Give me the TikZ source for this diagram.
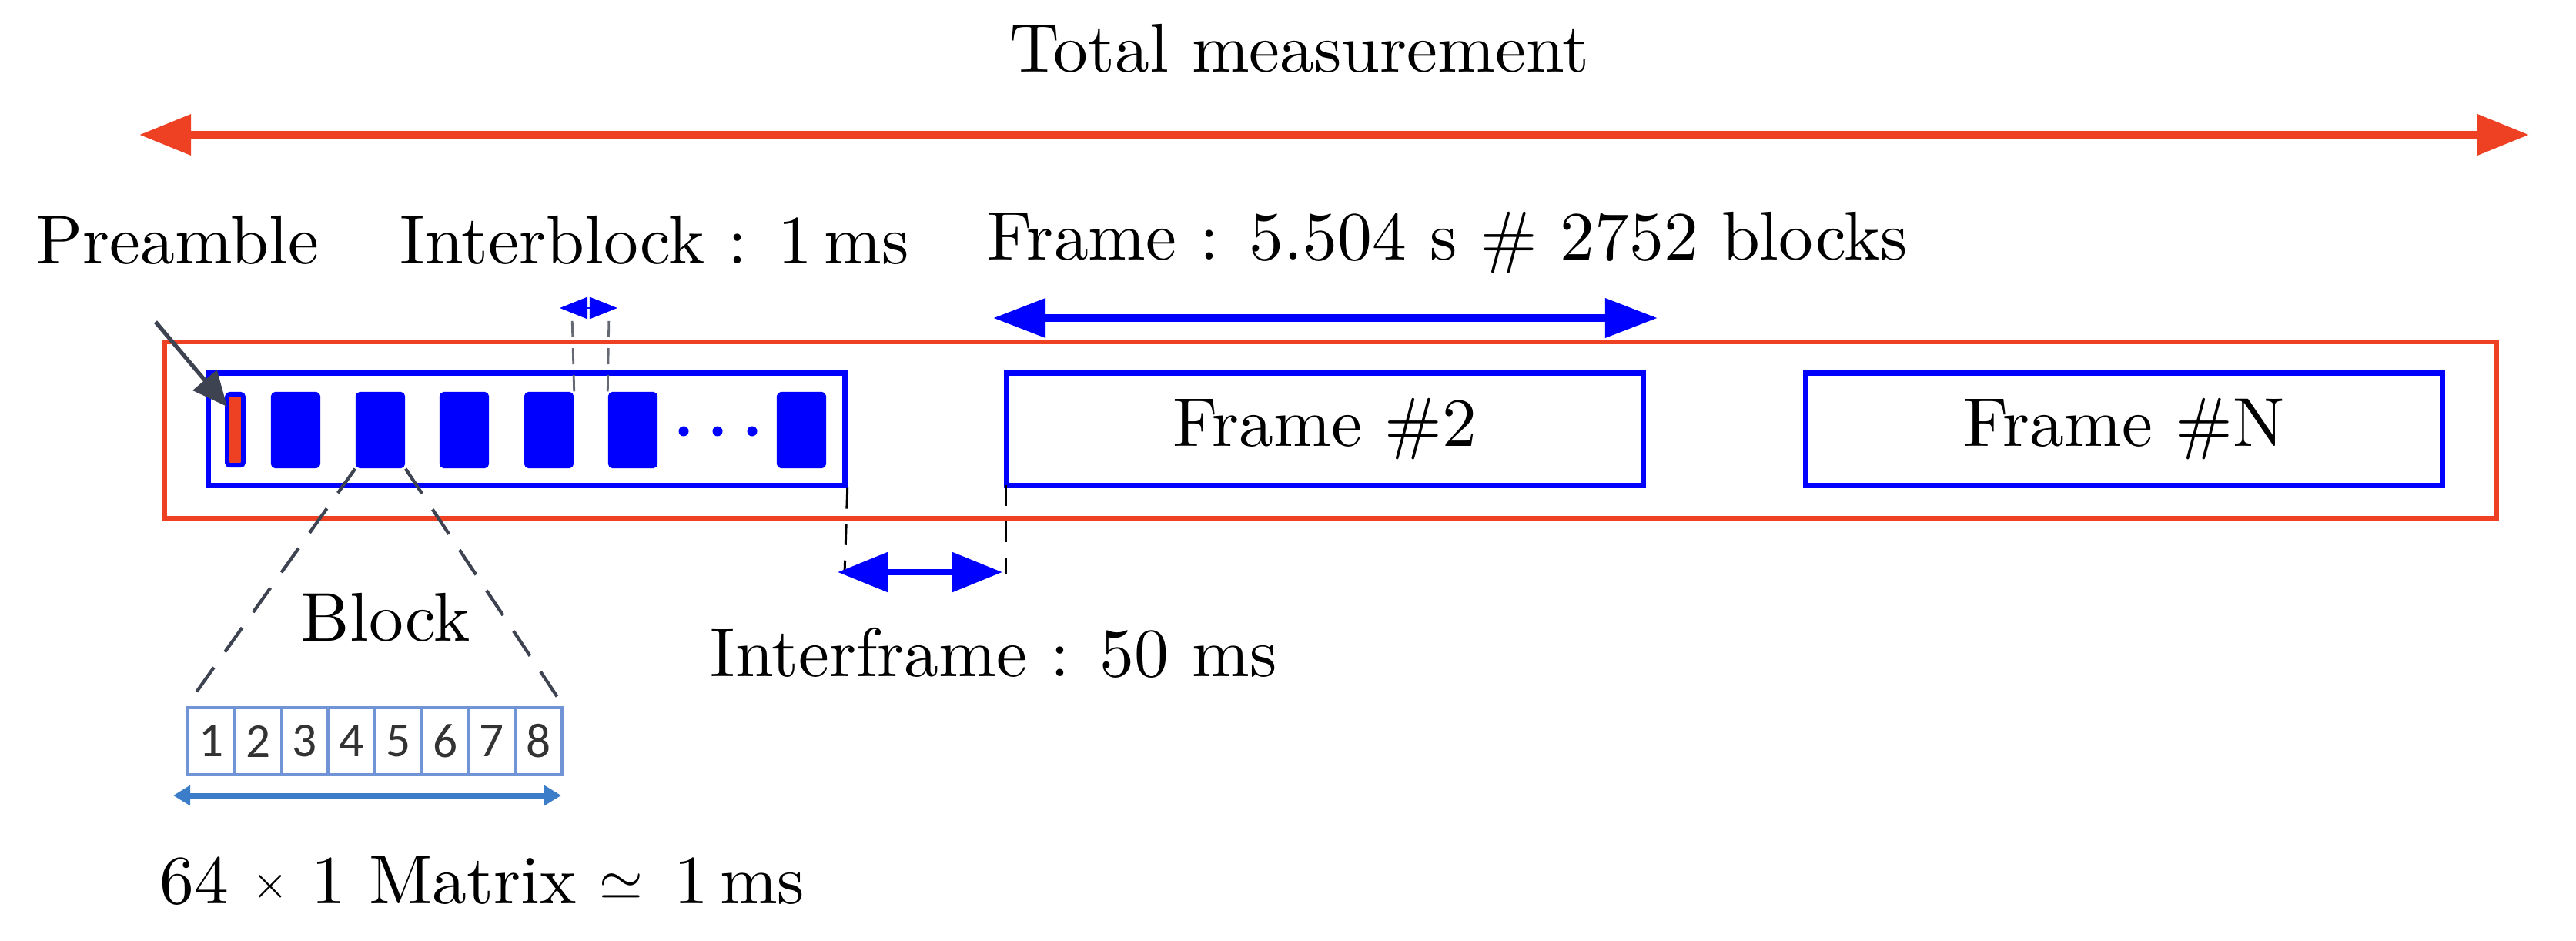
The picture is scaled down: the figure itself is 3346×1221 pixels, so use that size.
\documentclass[tikz,border=0pt]{standalone}
\usepackage{fontspec}
\usepackage{amssymb}
\setmainfont{lmroman10-regular}[Extension=.otf]
\newfontfamily\digitfont{Carlito}
\usetikzlibrary{arrows.meta}
\definecolor{myred}{RGB}{238,64,35}
\definecolor{myblue}{RGB}{0,0,255}
\definecolor{slate}{RGB}{61,67,80}
\definecolor{matblue}{RGB}{112,148,214}
\definecolor{arrblue}{RGB}{59,125,200}
\tikzset{
  lbl/.style={font=\fontsize{25.5}{30}\selectfont, inner sep=0pt, text=black},
  redbox/.style={draw=myred, line width=1.7pt, inner sep=0pt},
  framebox/.style={draw=myblue, line width=2pt, minimum width=8.26cm, minimum height=1.45cm, inner sep=0pt, font=\fontsize{25.5}{30}\selectfont},
  blk/.style={fill=myblue, rounded corners=1.5pt, minimum width=0.64cm, minimum height=0.99cm, inner sep=0pt},
  cell/.style={draw=matblue, line width=1.1pt, minimum width=0.6075cm, minimum height=0.87cm, inner sep=0pt, font=\digitfont\fontsize{18}{20}\selectfont, text=black!80},
  bigarrow/.style={line width=2.8pt, {Triangle[length=0.67cm,width=0.51cm]}-{Triangle[length=0.67cm,width=0.51cm]}},
  gapdash/.style={draw=black, line width=0.85pt, dash pattern=on 7.7pt off 5.7pt},
  zoomdash/.style={draw=slate, line width=1.2pt, dash pattern=on 11pt off 7pt},
}
\begin{document}
\begin{tikzpicture}[x=0.01cm, y=-0.01cm]
\useasboundingbox (0,0) rectangle (3346,1221);

% total measurement
\node[lbl, anchor=base] (totlbl) at (1688,93) {Total measurement};
\coordinate (tmL) at (181,175);
\coordinate (tmR) at (3285,175);
\draw[bigarrow, draw=myred, fill=myred] (tmL) -- (tmR);

% labels
\node[lbl, anchor=base west] (prelbl) at (46,342) {Preamble};
\node[lbl, anchor=base west] (iblbl) at (519,342) {Interblock : 1\,ms};
\node[lbl, anchor=base west] (frlbl) at (1282,337) {Frame : 5.504 s \# 2752 blocks};

% outer measurement box
\node[redbox, minimum width=30.27cm, minimum height=2.29cm] (meas) at (1728.5,558.5) {};

% frames
\node[framebox] (f1) at (684,557.5) {};
\node[framebox] (f2) at (1721,557.5) {Frame \#2};
\node[framebox] (fN) at (2759,557.5) {Frame \#N};

% preamble bar and blocks
\node[fill=myred, draw=myblue, line width=1.7pt, rounded corners=1pt, minimum width=0.21cm, minimum height=0.92cm, inner sep=0pt] (pre) at (305.5,558) {};
\node[blk] (b1) at (384,558.5) {};
\node[blk] (b2) at (494,558.5) {};
\node[blk] (b3) at (603,558.5) {};
\node[blk] (b4) at (713,558.5) {};
\node[blk] (b5) at (822,558.5) {};
\node[blk] (b6) at (1041,558.5) {};
\fill[myblue] (888,560) circle[radius=6.5] (932,560) circle[radius=6.5] (977,560) circle[radius=6.5];

% preamble pointer
\coordinate (preS) at (202,418);
\coordinate (preT) at (295,528);
\draw[slate, line width=1.5pt, -{Triangle[length=0.45cm,width=0.4cm]}] (preS) -- (preT);

% interblock
\coordinate (ibL) at (743,408);
\coordinate (ibR) at (791,408);
\draw[draw=slate!80, line width=0.8pt, dash pattern=on 6pt off 4pt] (b4.north east) -- (ibL);
\draw[draw=slate!80, line width=0.8pt, dash pattern=on 6pt off 4pt] (b5.north west) -- (ibR);
\coordinate (ibaL) at (727,400);
\coordinate (ibaR) at (802,400);
\draw[myblue, fill=myblue, line width=0.8pt, {Triangle[length=0.36cm,width=0.28cm]}-{Triangle[length=0.36cm,width=0.28cm]}] (ibaL) -- (ibaR);

% frame length arrow
\coordinate (faL) at (1290,413);
\coordinate (faR) at (2153,413);
\draw[bigarrow, draw=myblue, fill=myblue, {Triangle[length=0.68cm,width=0.49cm]}-{Triangle[length=0.68cm,width=0.49cm]}] (faL) -- (faR);

% interframe
\coordinate (ifL) at (1097,745);
\coordinate (ifR) at (1306,745);
\draw[gapdash] (f1.south east) -- (ifL);
\draw[gapdash] (1306,630) -- (ifR);
\coordinate (ifaL) at (1088,743);
\coordinate (ifaR) at (1302,743);
\draw[myblue, fill=myblue, line width=2.4pt, {Triangle[length=0.65cm,width=0.5cm]}-{Triangle[length=0.65cm,width=0.5cm]}] (ifaL) -- (ifaR);
\node[lbl, anchor=base west] (iflbl) at (922,878) {Interframe : 50 ms};

% block zoom
\node[lbl, anchor=base] (blklbl) at (501,832) {Block};
\foreach \i in {1,...,8} {
  \node[cell] (m\i) at ({244+60.75*(\i-0.5)},962.5) {\i};
}
\draw[zoomdash] (b2.south west) -- (m1.north west);
\draw[zoomdash] (b2.south east) -- (m8.north east);

% matrix length
\coordinate (maL) at (225,1033);
\coordinate (maR) at (729,1033);
\draw[arrblue, fill=arrblue, line width=2pt, {Triangle[length=0.22cm,width=0.25cm]}-{Triangle[length=0.22cm,width=0.25cm]}] (maL) -- (maR);
\node[lbl, anchor=base west] (malbl) at (207,1173) {64 \raisebox{1.8pt}{\fontsize{17}{20}\selectfont$\times$} 1 Matrix \raisebox{1.2pt}{\fontsize{20}{24}\selectfont$\simeq$}\hspace{0.45em}1\,ms};
\end{tikzpicture}
\end{document}
